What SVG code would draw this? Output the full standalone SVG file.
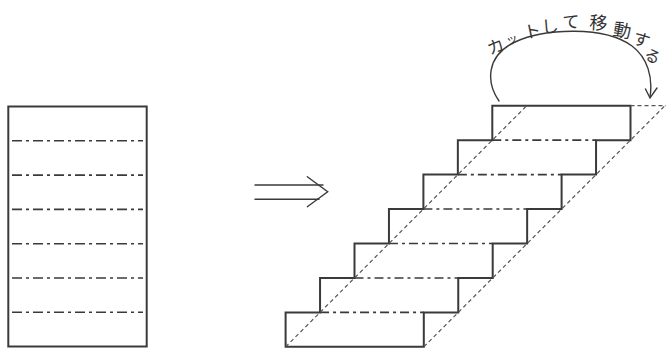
<svg xmlns="http://www.w3.org/2000/svg" width="666" height="348" viewBox="0 0 666 348">
<style>
.solid{fill:none;stroke:#3a3a3a;stroke-width:2;stroke-linejoin:miter}
.dd{fill:none;stroke:#3a3a3a;stroke-width:1.6;stroke-dasharray:10 4 3 4}
.dd2{fill:none;stroke:#3a3a3a;stroke-width:1.6;stroke-dasharray:9 4 3 4}
.dash{fill:none;stroke:#555;stroke-width:1.2;stroke-dasharray:4 3}
.thin{fill:none;stroke:#3a3a3a;stroke-width:1.4;stroke-linecap:round}
.jp{font-family:"Noto Sans CJK JP","Noto Sans CJK SC",sans-serif;font-size:17px;fill:#333;text-anchor:middle;dominant-baseline:central}
</style>
<rect width="666" height="348" fill="#fff"/>
<g id="sheet">
<rect class="solid" x="8.3" y="106.5" width="138.4" height="240"/>
<g>
<line class="dd" x1="12" y1="140.8" x2="143" y2="140.8"/>
<line class="dd" x1="12" y1="175.1" x2="143" y2="175.1"/>
<line class="dd" x1="12" y1="209.4" x2="143" y2="209.4"/>
<line class="dd" x1="12" y1="243.7" x2="143" y2="243.7"/>
<line class="dd" x1="12" y1="278" x2="143" y2="278"/>
<line class="dd" x1="12" y1="312.3" x2="143" y2="312.3"/>
</g>
</g>
<g id="implies">
<line class="thin" x1="255" y1="185" x2="323" y2="185"/>
<line class="thin" x1="255" y1="199.3" x2="319" y2="199.3"/>
<polyline class="thin" points="307.3,176.7 327.7,191.7 307.3,206.7"/>
</g>
<g id="stairs">
<path class="solid" d="M492.3,105.7 H630.5 V140.15 H596.05 V174.6 H561.6 V209.05 H527.15 V243.5 H492.7 V277.95 H458.25 V312.4 H423.8 V346.85 H285.6 V312.4 H320.05 V277.95 H354.5 V243.5 H388.95 V209.05 H423.4 V174.6 H457.85 V140.15 H492.3 Z"/>
<line class="dd2" x1="492.3" y1="140.15" x2="596.05" y2="140.15"/>
<line class="dd2" x1="457.85" y1="174.6" x2="561.6" y2="174.6"/>
<line class="dd2" x1="423.4" y1="209.05" x2="527.15" y2="209.05"/>
<line class="dd2" x1="388.95" y1="243.5" x2="492.7" y2="243.5"/>
<line class="dd2" x1="354.5" y1="277.95" x2="458.25" y2="277.95"/>
<line class="dd2" x1="320.05" y1="312.4" x2="423.8" y2="312.4"/>
<line class="dash" x1="285.6" y1="346.85" x2="526.75" y2="105.7"/>
<line class="dash" x1="423.8" y1="346.85" x2="668" y2="102.65"/>
<line class="dash" x1="630.5" y1="105.7" x2="666" y2="105.7"/>
</g>
<g id="connectors">
<path class="thin" d="M499,101 C486,82 486,56 515,42 C545,28 605,26 632,46 C648,58 653,78 650,97"/>
<polyline class="thin" points="645.5,89 650,98 657,88"/>
</g>
<g id="label">
<text class="jp" transform="translate(495,45) rotate(-22)">カ</text>
<text class="jp" transform="translate(511.5,38) rotate(-18)" style="font-size:12px">ッ</text>
<text class="jp" transform="translate(532,30) rotate(-12)">ト</text>
<text class="jp" transform="translate(550,25) rotate(-6)">し</text>
<text class="jp" transform="translate(571,20.5) rotate(-2)">て</text>
<text class="jp" transform="translate(598.5,21.5) rotate(4)" style="font-size:18px">移</text>
<text class="jp" transform="translate(622.5,29) rotate(10)" style="font-size:18px">動</text>
<text class="jp" transform="translate(642,38.5) rotate(18)">す</text>
<text class="jp" transform="translate(653,55) rotate(28)" style="font-size:16px">る</text>
</g>
</svg>
